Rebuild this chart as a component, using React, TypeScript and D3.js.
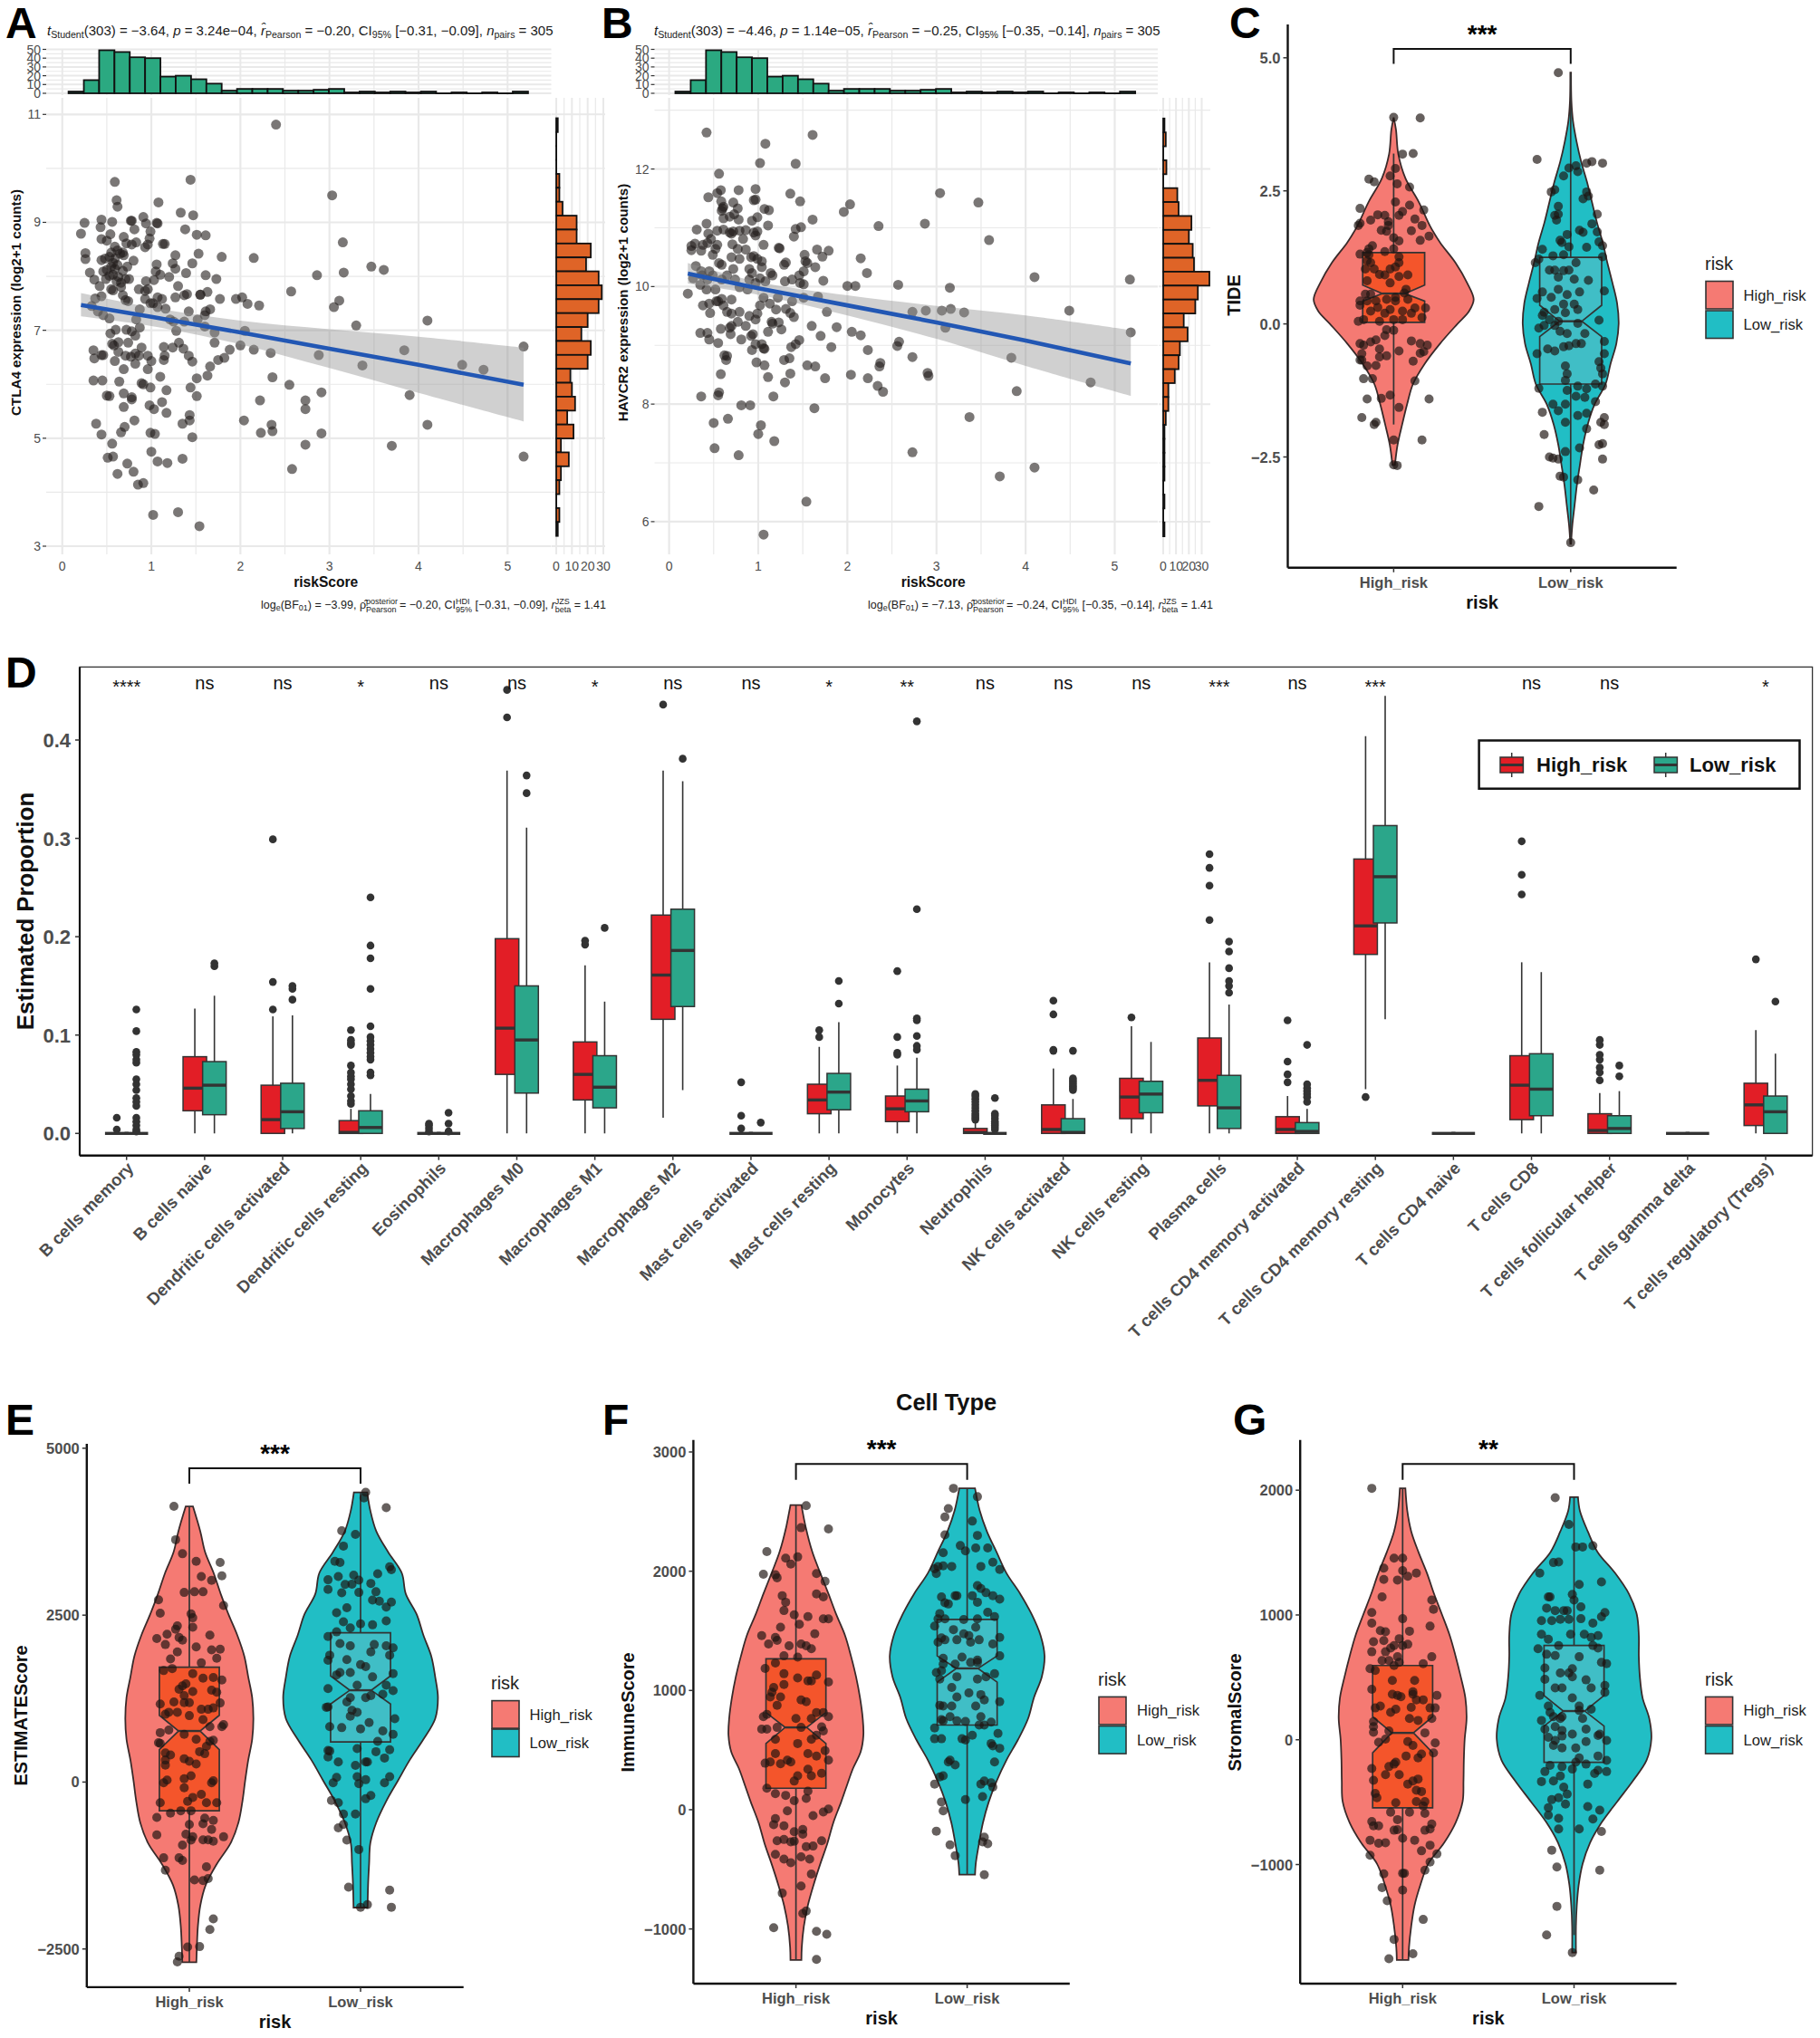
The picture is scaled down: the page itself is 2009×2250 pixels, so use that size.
import React from 'react';
import * as d3 from 'd3';

type Pair = [number, number];

// shared histogram of riskScore (panels A and B)
const riskBinCounts = [2, 15, 49, 47, 41, 40, 19, 20, 16, 11, 3, 5, 5, 5, 3, 3, 4, 5, 1, 2, 1, 2, 1, 2, 0, 1, 0, 1, 0, 2];
const ctla4BinCounts = [1, 0, 0, 0, 2, 2, 4, 13, 13, 22, 19, 27, 29, 27, 20, 16, 22, 20, 9, 10, 12, 7, 11, 3, 8, 3, 2, 0, 2, 1];
const havcr2BinCounts = [1, 2, 0, 2.5, 0, 11, 12, 22, 20, 23, 24, 36, 27, 25, 16, 19, 13, 12, 9, 4, 4, 2, 1, 1, 1, 1, 0, 1, 0, 1];

const smoothX = [0.21, 1, 2, 3, 4, 5.18];
const ctla4Fit = [7.47, 7.25, 6.96, 6.66, 6.36, 5.99];
const ctla4Hi = [7.69, 7.42, 7.18, 7.02, 6.88, 6.68];
const ctla4Lo = [7.26, 7.08, 6.74, 6.3, 5.84, 5.31];
const havcr2Fit = [10.22, 9.97, 9.68, 9.39, 9.08, 8.69];
const havcr2Hi = [10.4, 10.08, 9.85, 9.67, 9.51, 9.26];
const havcr2Lo = [10.05, 9.86, 9.51, 9.11, 8.65, 8.14];

const ctla4Points: Pair[] = [
  [2.4,10.81],[.59,9.75],[1.44,9.79],[3.03,9.5],[.61,9.41],[.62,9.29],[1.08,9.37],[1.33,9.18],[1.47,9.13],[.25,8.99],[.21,8.79],[.44,9.05],[.56,9.01],[.43,8.91],[.77,9.03],[.78,9.03],[.91,9.1],[.94,8.98],[1.06,8.99],[1.07,8.98],[1.38,8.87],[1.51,8.77],[1.61,8.76],[.54,8.78],[.69,8.73],[.81,8.87],[.99,8.83],[.98,8.7],[.44,8.69],[.5,8.66],[.83,8.63],[.72,8.61],[.78,8.59],[1.13,8.6],[1.15,8.6],[3.15,8.63],[.93,8.54],[.96,8.59],[.26,8.43],[.26,8.32],[1.27,8.39],[1.53,8.42],[1.79,8.36],[2.15,8.34],[1.46,8.24],[1.24,8.24],[1.27,8.14],[1.06,8.22],[.8,8.29],[.44,8.3],[.31,8.07],[.36,7.94],[1.39,8.06],[1.61,8.02],[1.73,7.95],[1.2,7.99],[1.1,8.03],[1.05,8.09],[1.03,7.93],[.94,7.91],[2.86,8.02],[3.16,8.07],[3.47,8.18],[3.61,8.12],
  [.59,8.55],[.62,8.48],[.55,8.44],[.65,8.42],[.68,8.44],[.69,8.39],[.59,8.33],[.53,8.36],[.48,8.33],[.57,8.25],[.62,8.21],[.55,8.18],[.59,8.14],[.5,8.12],[.46,8.09],[.57,8.03],[.63,7.99],[.53,8.01],[.49,7.95],[.42,7.82],[.61,7.91],[.71,7.95],[.75,7.95],[.66,7.88],[.73,8.18],[.68,8.1],[.57,7.74],[.55,7.76],[.66,7.8],[.68,7.65],[.71,7.56],[.74,7.54],[.44,7.63],[.37,7.59],[.33,7.45],[.4,7.35],[.46,7.28],[.53,7.22],[.54,6.94],[.6,7.01],[.72,7.01],[.78,6.98],[.82,6.9],[.87,7.05],[.83,7.2],[.87,7.39],[.93,7.58],[.93,7.73],[.86,7.76],[.96,7.76],[.99,7.5],[1.02,7.5],[1.07,7.61],[1.12,7.58],[1.07,7.43],[1.16,7.4],[1.21,7.2],[1.25,7.16],[1.28,6.99],[1.37,7.16],[1.42,7.35],[1.27,7.61],[1.3,7.82],[1.37,7.65],[1.4,7.67],[1.55,7.66],[1.55,7.66],[1.63,7.71],[1.77,7.58],[1.66,7.39],[1.61,7.35],[1.6,7.28],[1.52,7.2],[1.6,7.07],[1.71,6.96],[1.71,6.77],[1.88,6.64],[1.82,6.49],[1.75,6.45],[1.66,6.33],[1.63,6.16],[1.51,6.11],[1.46,6.42],[1.42,6.53],[1.36,6.66],[1.31,6.77],[1.24,6.68],[1.14,6.69],[1.15,6.53],[1.14,6.45],[.96,6.53],[1,6.43],[.82,6.57],[.86,6.53],[.77,6.51],[.71,6.53],[.63,6.6],[.58,6.72],[.56,6.75],[.63,6.78],[.74,6.77],[.89,6.68],[.44,6.54],[.46,6.54],[.59,6.43],[.35,6.63],[.36,6.48],[.69,6.28],[.82,6.38],[.96,6.28],[1.1,6.14],[.35,6.07],[.45,6.07],[.64,6.05],[.89,6.02],[.91,6],[.99,5.94],[1.17,5.89],[1.44,5.94],[1.51,5.78],[.5,5.79],[.53,5.78],[.69,5.83],[.78,5.76],[.78,5.72],[.69,5.58],[.98,5.61],[1.03,5.54],[1.12,5.67],[1.17,5.47],[1.43,5.43],[1.43,5.33],[1.35,5.27],[.81,5.33],[.38,5.27],[.44,5.07],[.7,5.21],[.66,5.11],[.99,5.1],[1.04,5.08],[1.46,5.02],[.56,4.9],[1,4.75],[1.07,4.57],[1.18,4.54],[1.35,4.62],[.51,4.64],[.57,4.66],[.73,4.53],[.62,4.34],[.8,4.38],[.85,4.14],[.91,4.17],[1.02,3.58],[1.3,3.63],[1.54,3.37],
  [1.95,7.58],[2.02,7.61],[2.08,7.49],[2.21,7.46],[2.05,6.99],[2,6.72],[2.15,6.64],[2.34,6.58],[2.36,6.13],[2.55,5.99],[2.22,5.7],[2.04,5.33],[2.35,5.25],[2.36,5.13],[2.23,5.1],[2.73,5.7],[2.73,5.54],[2.73,4.88],[2.58,4.43],[2.91,5.85],[2.91,5.09],[2.88,6.54],[2.57,7.72],[3.11,7.55],[3.05,7.43],[3.3,7.09],[3.84,6.63],[3.37,6.35],[4.1,7.18],[4.49,6.36],[4.73,6.27],[5.18,6.7],[3.9,5.8],[4.1,5.25],[3.7,4.86],[5.18,4.66],
];

const havcr2Points: Pair[] = [
  [.42,12.62],[1.61,12.58],[1.08,12.43],[1.02,12.1],[1.42,12.09],[.56,11.92],[1.36,11.58],[3.04,11.59],[.78,11.64],[.97,11.66],[.58,11.64],[.54,11.59],[.44,11.52],[.72,11.43],[.95,11.47],[.97,11.48],[1.47,11.45],[2.03,11.4],[1.96,11.27],[3.47,11.43],[.585,11.45],[.61,11.36],[.6,11.33],[.59,11.29],[.77,11.33],[.73,11.23],[1.07,11.32],[1.12,11.3],[.99,11.18],[.93,11.12],[1.61,11.14],[.61,11.16],[.68,11.19],[.78,11.14],[1.11,11.04],[.42,11.07],[2.35,11.03],[2.87,11.07],[.31,10.97],[.44,10.9],[.54,10.95],[.61,10.97],
  [.68,10.92],[.7,10.9],[.72,10.94],[.79,10.95],[.86,10.96],[.83,10.81],[.95,10.92],[.99,10.94],[.97,10.87],[1.42,10.98],[1.48,11.01],[1.4,10.85],[3.59,10.79],[.29,10.73],[.25,10.69],[.25,10.62],[.36,10.61],[.38,10.71],[.43,10.74],[.47,10.81],[.54,10.71],[.52,10.64],[.71,10.72],[1.06,10.71],[1.23,10.66],[1.24,10.65],[1.52,10.54],[1.66,10.63],[1.79,10.61],[1.72,10.51],[1.64,10.33],[1.53,10.43],[1.55,10.4],[2.15,10.48],[2.22,10.23],[.3,10.35],[.49,10.54],[.56,10.4],[.59,10.37],[.7,10.5],[.79,10.47],[.77,10.64],[.86,10.63],[.92,10.5],[.95,10.52],[.99,10.47],[1.04,10.43],[1.04,10.33],[.9,10.3],[.93,10.23],[.72,10.3],[.65,10.19],[.45,10.26],[.36,10.26],[.37,10.19],[.27,10.14],[.43,10.12],[.49,10.19],[.59,10.12],[.74,10.12],[.9,10.12],[1.02,10.14],[1.16,10.19],[1.14,10.23],[1.29,10.37],[1.31,10.41],[1.3,10.09],[1.38,10.12],[1.46,10.19],[1.51,10.26],[1.47,10.06],[1.51,10.04],[1.73,10.1],[2,10.01],[2.09,10.01],[2.57,10.03],[4.1,10.16],[5.17,10.12],
  [.21,9.88],[.35,10.03],[.42,9.95],[.52,9.95],[.55,9.75],[.53,9.75],[.38,9.68],[.45,9.71],[.59,9.79],[.7,9.78],[.79,9.99],[.88,9.95],[.97,10.06],[1.08,10.09],[1.06,9.81],[1.22,9.81],[1.38,9.75],[1.51,9.81],[1.67,9.83],[3.15,9.98],[1.77,9.57],[1.4,9.48],[1.36,9.55],[1.31,9.62],[1.2,9.61],[1.13,9.71],[1.02,9.68],[.99,9.54],[.97,9.44],[.9,9.5],[.79,9.57],[.7,9.54],[.65,9.57],[.61,9.68],[.46,9.55],[.77,9.4],[.86,9.33],[.68,9.3],[.7,9.33],[.69,9.19],[.58,9.28],[.35,9.21],[.43,9.21],[.45,9.1],[.55,9.04],[.81,9.1],[.92,9.16],[.94,9.19],[.97,9.02],[.93,8.92],[1.04,9.02],[1.06,8.95],[1.07,8.94],[1.15,9.4],[1.11,9.23],[1.16,9.37],[1.23,9.39],[1.26,9.27],[1.46,9.09],[1.42,9.02],[1.37,8.97],[1.6,9.33],[1.7,9.16],[1.88,9.31],[2.05,9.23],[2.15,9.17],[1.82,8.97],[2.23,8.92],[2.56,8.99],[2.58,9.06],[2.73,9.57],[2.88,9.59],[3.06,9.59],[3.16,9.62],[3.31,9.56],[3.1,9.3],[4.49,9.59],[5.18,9.22],[2.73,8.8],[3.84,8.79],[.62,8.83],[.65,8.82],[.64,8.75],[.98,8.71],[1.07,8.66],[1.35,8.78],[1.29,8.75],[1.55,8.66],[1.64,8.64],[.58,8.51],[1.11,8.46],[1.36,8.52],[1.3,8.37],[1.75,8.44],[2.04,8.5],[2.23,8.44],[2.37,8.7],[2.36,8.64],[2.9,8.53],[2.91,8.48],[2.34,8.31],[2.4,8.21],[4.73,8.37],[3.9,8.22],[.36,8.13],[.55,8.15],[.56,8.2],[1.17,8.13],[.81,7.98],[.91,7.98],[1.63,7.93],[3.37,7.78],[.5,7.68],[.66,7.75],[1.03,7.64],[1,7.49],[1.18,7.37],[.51,7.25],[.78,7.13],[2.73,7.18],[3.71,6.77],[4.1,6.92],[1.54,6.34],[1.06,5.78],
];

// panel D: whisker low, q1, median, q3, whisker high
const cellTypes = ['B cells memory', 'B cells naive', 'Dendritic cells activated', 'Dendritic cells resting', 'Eosinophils', 'Macrophages M0', 'Macrophages M1', 'Macrophages M2', 'Mast cells activated', 'Mast cells resting', 'Monocytes', 'Neutrophils', 'NK cells activated', 'NK cells resting', 'Plasma cells', 'T cells CD4 memory activated', 'T cells CD4 memory resting', 'T cells CD4 naive', 'T cells CD8', 'T cells follicular helper', 'T cells gamma delta', 'T cells regulatory (Tregs)'];
const cellSignif = ['****', 'ns', 'ns', '*', 'ns', 'ns', '*', 'ns', 'ns', '*', '**', 'ns', 'ns', 'ns', '***', 'ns', '***', '', 'ns', 'ns', '', '*'];
const boxHigh = [
  [0,0,0,0,0],[0,.023,.046,.078,.127],[0,0,.014,.049,.119],[0,0,.001,.013,.025],[0,0,0,0,0],[0,.06,.107,.198,.369],[0,.034,.06,.093,.171],[.016,.116,.161,.222,.369],[0,0,0,0,0],[0,.02,.034,.05,.088],[0,.012,.025,.038,.069],[0,0,.001,.005,.012],[0,0,.004,.029,.066],[0,.015,.037,.056,.109],[0,.028,.054,.097,.174],[0,0,.004,.017,.038],[.045,.182,.211,.279,.404],[0,0,0,0,0],[0,.014,.049,.079,.174],[0,0,.003,.02,.041],[0,0,0,0,0],[0,.008,.029,.051,.105],
];
const boxLow = [
  [0,0,0,0,0],[0,.019,.049,.073,.14],[0,.005,.022,.051,.12],[0,0,.006,.023,.04],[0,0,0,0,0],[0,.041,.095,.15,.311],[0,.026,.047,.079,.134],[.044,.129,.186,.228,.358],[0,0,0,0,0],[0,.024,.042,.061,.113],[0,.022,.033,.045,.077],[0,0,0,0,0],[0,0,.001,.015,.035],[0,.021,.04,.053,.093],[0,.005,.026,.059,.131],[0,0,.002,.011,.025],[.116,.214,.261,.313,.445],[0,0,0,0,0],[0,.018,.045,.081,.164],[0,0,.005,.018,.043],[0,0,0,0,0],[0,0,.022,.038,.081],
];
const outlierHigh = [
  [.004,.016],[],[.126,.154,.299],[.03,.033,.038,.045,.05,.055,.058,.062,.069,.09,.092,.095,.105],[.002,.005,.008,.01],[.423,.451],[.192,.196],[.436],[.005,.018,.052],[.098,.105],[.08,.082,.098,.165],[.014,.016,.018,.02,.023,.026,.029,.032,.035,.038,.04],[.084,.085,.121,.135],[.118],[.217,.252,.27,.284],[.052,.06,.073,.115],[.037],[],[.243,.263,.297],[.054,.062,.067,.075,.08,.09,.095],[],[.177],
];
const outlierLow = [
  [.002,.004,.008,.012,.016,.028,.032,.036,.044,.05,.055,.072,.075,.08,.083,.104,.126],[.17,.173],[.136,.147,.15],[.059,.062,.075,.078,.082,.086,.09,.094,.098,.109,.147,.178,.191,.24],[.002,.01,.021],[.346,.364],[.209],[.381],[.011],[.132,.155],[.085,.089,.099,.115,.117,.228,.419],[.004,.006,.008,.01,.012,.015,.018,.02,.036],[.044,.046,.048,.05,.052,.054,.056,.084],[],[.143,.15,.155,.168,.185,.195],[.032,.037,.04,.043,.046,.05,.09],[],[],[],[.058,.069],[],[.134],
];

// violin outlines: score, half width (in units of category spacing)
const tideHighShape: Pair[] = [[3.88,0],[3.65,.013],[3.19,.026],[2.74,.066],[2.29,.142],[1.83,.207],[1.53,.262],[1.15,.349],[.77,.415],[.46,.452],[.24,.426],[0,.36],[-.37,.262],[-.75,.175],[-1.13,.109],[-1.51,.076],[-1.89,.048],[-2.27,.022],[-2.65,.007]];
const tideLowShape: Pair[] = [[4.72,.002],[4.19,.004],[3.81,.013],[3.43,.033],[3.05,.059],[2.67,.092],[2.29,.12],[1.91,.148],[1.53,.181],[1.15,.207],[.77,.236],[.39,.262],[0,.271],[-.37,.258],[-.75,.225],[-1.13,.197],[-1.51,.135],[-1.89,.096],[-2.27,.07],[-2.65,.052],[-3.03,.035],[-3.41,.022],[-3.79,.009],[-4.13,.002]];
const estimateHighShape: Pair[] = [[4130,.021],[3755,.064],[3445,.092],[3130,.142],[2820,.183],[2510,.229],[2200,.28],[1885,.321],[1575,.344],[1265,.367],[950,.374],[640,.367],[330,.344],[20,.326],[-290,.31],[-605,.287],[-915,.241],[-1225,.161],[-1540,.096],[-1850,.064],[-2160,.05],[-2470,.044],[-2700,.041]];
const estimateLowShape: Pair[] = [[4340,.039],[4065,.057],[3755,.092],[3445,.161],[3130,.241],[2820,.264],[2510,.328],[2200,.367],[1885,.413],[1575,.436],[1265,.452],[950,.436],[640,.367],[330,.287],[20,.218],[-290,.149],[-605,.092],[-915,.057],[-1225,.05],[-1540,.044],[-1880,.041]];
const immuneHighShape: Pair[] = [[2555,.032],[2370,.057],[2160,.096],[1985,.142],[1810,.19],[1635,.236],[1460,.287],[1290,.321],[1115,.351],[940,.374],[765,.39],[625,.394],[485,.378],[345,.333],[205,.298],[65,.264],[-110,.218],[-285,.183],[-455,.142],[-630,.103],[-805,.069],[-980,.046],[-1155,.034],[-1260,.032]];
const immuneLowShape: Pair[] = [[2695,.046],[2510,.073],[2335,.115],[2160,.172],[1985,.229],[1810,.31],[1635,.378],[1460,.429],[1290,.452],[1115,.436],[940,.39],[765,.356],[590,.298],[415,.229],[240,.172],[65,.126],[-110,.092],[-285,.069],[-455,.05],[-545,.046]];
const stromalHighShape: Pair[] = [[2015,.016],[1835,.027],[1670,.05],[1505,.092],[1335,.142],[1170,.183],[1005,.229],[835,.275],[670,.309],[505,.339],[335,.366],[170,.373],[5,.362],[-165,.357],[-330,.355],[-495,.35],[-665,.309],[-830,.24],[-995,.149],[-1165,.103],[-1330,.069],[-1495,.05],[-1665,.037],[-1765,.034]];
const stromalLowShape: Pair[] = [[1945,.023],[1835,.034],[1670,.08],[1505,.137],[1335,.24],[1170,.32],[1005,.366],[835,.378],[670,.378],[505,.384],[335,.4],[170,.439],[5,.451],[-165,.423],[-330,.343],[-495,.252],[-665,.16],[-830,.092],[-995,.05],[-1165,.027],[-1330,.016],[-1495,.011],[-1705,.011]];

// notched box: whisker low, q1, notch low, median, notch high, q3, whisker high
const tideHighBox = [-1.89, .03, .43, .57, .73, 1.34, 3.2];
const tideLowBox = [-4.1, -1.13, -.24, .05, .35, 1.25, 4.72];
const estimateHighBox = [-2700, -430, 485, 765, 1000, 1720, 4130];
const estimateLowBox = [-1880, 600, 1170, 1375, 1590, 2235, 4340];
const immuneHighBox = [-1260, 180, 555, 690, 815, 1265, 2555];
const immuneLowBox = [-545, 710, 1070, 1185, 1290, 1595, 2695];
const stromalHighBox = [-1765, -545, -105, 55, 185, 595, 2015];
const stromalLowBox = [-1565, -180, 110, 230, 355, 755, 1945];

// jittered samples: offset from the category, score
const tideHighPoints: Pair[] = [[0,3.88],[.15,3.87],[.05,3.19],[.11,3.2],[-.14,2.72],[-.11,2.67],[-.02,2.78],[.01,2.92],[.02,2.63],[.09,2.57],[-.19,2.17],[.01,2.29],[.09,2.23],[.17,2.14],[.05,2.11],[.03,2.04],[-.09,2.05],[-.05,2.04],[-.13,1.95],[-.19,1.89],[-.2,1.85],[-.03,1.92],[-.03,1.85],[.12,1.97],[.16,1.85],[.1,1.75],[-.07,1.76],[-.04,1.74],[0,1.62],[.03,1.56],[.15,1.57],[.2,1.65],[-.12,1.47],[-.14,1.41],[-.19,1.31],[-.15,1.34],[-.14,1.3],[-.05,1.36],[0,1.41],[.03,1.26],[-.15,1.19],[-.13,1.15],[-.11,1.03],[-.16,1.03],[-.02,1.03],[.01,1.07],[.03,1.15],[-.05,.92],[-.08,.93],[.03,.89],[.08,.92],[-.15,.81],[-.02,.77],[.07,.65],[-.16,.56],[-.13,.56],[.06,.58],[.01,.5],[-.19,.43],[-.15,.43],[-.1,.43],[-.04,.46],[.01,.43],[.08,.46],[-.19,.35],[-.09,.31],[-.02,.27],[.05,.24],[.12,.3],[.18,.3],[-.13,.24],[-.05,.2],[.1,.2],[-.17,.08],[-.2,.05],[-.08,.05],[0,.08],[.05,.08],[.16,.12],[-.04,-.11],[0,-.12],[-.05,-.22],[-.19,-.37],[-.17,-.4],[-.13,-.34],[-.1,-.3],[.1,-.32],[.15,-.37],[.19,-.4],[-.08,-.47],[.17,-.52],[.15,-.55],[-.18,-.56],[-.18,-.68],[-.19,-.68],[-.08,-.62],[-.04,-.6],[.03,-.51],[.11,-.7],[-.15,-.79],[-.1,-.78],[-.17,-1.03],[-.12,-1.03],[.12,-1.07],[-.15,-1.41],[-.07,-1.4],[-.02,-1.34],[.2,-1.41],[.03,-1.57],[-.18,-1.76],[-.11,-1.89],[-.1,-1.85],[.16,-2.18],[0,-2.18],[0,-2.65],[.02,-2.66]];
const tideLowPoints: Pair[] = [[-.07,4.72],[-.19,3.09],[.09,3.02],[.12,3.05],[.18,3.02],[-.01,2.93],[.03,2.97],[.04,2.86],[-.04,2.78],[-.11,2.48],[-.09,2.52],[.09,2.48],[.1,2.4],[.07,2.35],[-.07,2.21],[-.07,2.06],[-.09,2.04],[-.08,1.95],[.15,2.06],[.12,1.88],[-.02,1.68],[.05,1.76],[.07,1.72],[.15,1.73],[-.06,1.57],[-.05,1.53],[-.01,1.45],[.16,1.54],[-.16,1.4],[.09,1.44],[.18,1.47],[-.2,1.15],[-.18,1.22],[-.1,1.28],[-.04,1.3],[.03,1.15],[.18,1.26],[-.12,1.01],[-.09,1.01],[-.07,.88],[-.04,1],[-.01,1.01],[.02,.84],[.1,.82],[-.07,.65],[-.16,.6],[-.02,.55],[.05,.6],[.19,.62],[-.19,.48],[-.11,.5],[-.04,.37],[.02,.37],[-.15,.22],[-.09,.27],[-.03,.21],[.04,.27],[-.16,.16],[-.12,.08],[-.07,.05],[.16,.07],[-.18,-.08],[-.15,-.03],[-.09,-.03],[-.06,-.14],[-.02,-.18],[.04,.01],[.08,-.18],[.19,-.33],[-.13,-.47],[-.09,-.51],[-.04,-.43],[-.01,-.41],[.03,-.37],[.06,-.37],[-.19,-.56],[.19,-.56],[.16,-.71],[-.03,-.79],[.17,-.83],[-.02,-.94],[.18,-.94],[-.03,-1.06],[.14,-1.13],[-.18,-1.21],[-.02,-1.25],[.04,-1.17],[.09,-1.22],[.18,-1.17],[.03,-1.36],[.08,-1.38],[.14,-1.46],[-.1,-1.51],[-.03,-1.51],[-.07,-1.63],[-.16,-1.66],[.04,-1.72],[.09,-1.68],[.19,-1.76],[.17,-1.85],[.19,-1.89],[-.03,-1.85],[.09,-1.97],[-.15,-2.08],[.05,-2.33],[-.03,-2.4],[.16,-2.27],[.18,-2.25],[.18,-2.54],[-.12,-2.5],[-.1,-2.52],[-.07,-2.54],[-.06,-2.86],[-.04,-2.88],[.04,-2.93],[.13,-3.12],[-.18,-3.43],[0,-4.11]];
const estimateHighPoints: Pair[] = [[-.09,4130],[-.08,3630],[-.04,3420],[.04,3305],[.18,3290],[.19,3090],[.07,3080],[.13,3020],[-.18,2730],[-.03,2840],[.03,2850],[.08,2850],[.2,2645],[-.17,2530],[.01,2520],[.02,2460],[.02,2320],[-.07,2340],[-.08,2290],[-.13,2215],[-.06,2165],[-.19,2150],[-.04,2125],[.12,2200],[-.14,2060],[.04,2025],[.13,1980],[.18,1990],[-.07,1950],[-.11,1845],[.16,1855],[.07,1785],[-.15,1670],[-.1,1700],[.02,1625],[.08,1555],[.14,1565],[.19,1530],[-.02,1470],[-.04,1440],[-.06,1390],[.02,1355],[.13,1375],[.16,1345],[-.03,1295],[-.09,1200],[-.03,1190],[-.17,1170],[0,1190],[.18,1185],[.11,1090],[.07,1090],[.14,1110],[-.14,1015],[-.12,1045],[-.07,1045],[0,995],[.08,935],[.19,830],[.2,860],[.12,830],[-.17,740],[-.12,780],[-.03,715],[.04,640],[-.17,580],[-.18,590],[.12,610],[.14,625],[.1,535],[-.14,435],[-.11,405],[.06,455],[.09,425],[-.14,330],[-.03,350],[0,310],[.04,270],[-.14,255],[.01,95],[-.03,50],[-.13,30],[.13,-10],[.14,20],[-.15,-10],[-.03,-85],[.07,-185],[.02,-230],[-.01,-290],[-.17,-310],[.1,-310],[.16,-310],[-.11,-465],[-.05,-430],[.01,-430],[-.19,-530],[.09,-540],[.14,-575],[.08,-625],[0,-635],[.13,-710],[-.19,-790],[-.02,-780],[.02,-820],[.2,-820],[.01,-870],[.08,-865],[.11,-865],[.14,-885],[-.04,-945],[-.15,-1135],[-.06,-1135],[-.04,-1175],[-.14,-1320],[.1,-1270],[.03,-1465],[.08,-1475],[.11,-1445],[.14,-2050],[.12,-2210],[-.01,-2470],[.06,-2465],[-.06,-2610],[-.07,-2695]];
const estimateLowPoints: Pair[] = [[.03,4340],[.15,4110],[.02,4255],[-.11,3765],[-.03,3710],[-.1,3535],[-.15,3305],[-.12,3290],[.17,3225],[.18,3180],[.1,3120],[-.19,3030],[-.13,3080],[-.09,2960],[-.05,2965],[-.04,3100],[-.01,3025],[.06,2975],[-.19,2885],[-.11,2835],[-.01,2840],[.09,2850],[.07,2725],[.11,2710],[.18,2695],[.15,2620],[-.14,2535],[-.08,2610],[.15,2415],[0,2370],[-.1,2400],[.07,2355],[-.14,2250],[-.19,2180],[-.06,2310],[-.18,1900],[-.12,2075],[-.06,2040],[.08,2060],[.06,1950],[.19,2010],[.15,2040],[-.19,1825],[-.08,1835],[.17,1900],[0,1760],[.03,1730],[.19,1625],[-.12,1640],[-.14,1605],[-.06,1640],[.07,1575],[.15,1450],[-.19,1400],[-.02,1450],[.19,1370],[.13,1315],[-.06,1265],[.03,1265],[.06,1295],[-.2,1120],[-.08,1200],[-.05,1075],[-.19,1125],[-.02,1045],[-.06,985],[.2,950],[.13,765],[-.18,830],[-.11,815],[0,795],[.05,890],[.19,715],[.1,610],[.17,485],[-.19,475],[-.18,465],[-.02,500],[.09,455],[-.19,375],[.14,360],[-.13,300],[.03,300],[-.03,250],[.04,300],[-.14,70],[-.02,80],[.17,80],[.03,35],[-.16,-10],[-.01,-25],[.14,-10],[.06,-200],[.03,-250],[-.17,-275],[-.13,-310],[-.1,-480],[-.03,-480],[-.1,-635],[-.13,-685],[-.08,-870],[-.01,-1010],[-.07,-1575],[.17,-1620],[.18,-1875],[.04,-1835],[0,-1875]];
const immuneHighPoints: Pair[] = [[.06,2550],[.19,2355],[.03,2365],[-.17,2165],[-.06,2110],[.01,2120],[-.03,2060],[-.19,1975],[-.12,1970],[-.11,1945],[.12,1980],[.17,1915],[.12,1810],[.16,1785],[-.08,1795],[-.06,1740],[-.07,1670],[-.01,1635],[.07,1620],[.02,1555],[.16,1600],[.19,1600],[-.09,1530],[-.12,1445],[-.2,1460],[.11,1475],[-.16,1390],[-.11,1420],[.03,1390],[.06,1375],[.09,1350],[-.04,1375],[-.07,1290],[.01,1280],[-.12,1230],[-.18,1185],[.19,1070],[-.07,1140],[.01,1105],[.07,1080],[.09,1080],[.12,1130],[-.13,1025],[-.14,985],[-.07,1050],[-.15,945],[-.09,945],[.03,920],[.06,905],[-.11,875],[-.17,800],[-.19,780],[.12,815],[.19,780],[.16,815],[.09,765],[0,765],[.03,690],[-.2,675],[-.17,675],[-.11,690],[.15,695],[.12,625],[.09,590],[-.12,590],[.16,660],[.01,555],[.17,495],[-.12,470],[.07,470],[.12,450],[-.18,390],[-.15,400],[-.09,385],[-.05,415],[.19,415],[-.03,400],[.07,340],[.01,285],[.09,285],[-.01,240],[.15,305],[-.17,180],[-.12,135],[.07,155],[-.06,120],[-.01,75],[.06,95],[.1,-50],[.16,-20],[.19,5],[-.05,-10],[-.12,-75],[-.13,-125],[-.07,-135],[-.01,-185],[.04,-165],[.04,-205],[-.11,-260],[-.07,-250],[-.03,-270],[-.01,-265],[.06,-310],[.1,-305],[.15,-260],[-.12,-375],[-.07,-415],[-.03,-445],[.03,-395],[.08,-415],[.09,-540],[.03,-640],[-.08,-700],[.06,-850],[.04,-870],[-.13,-990],[.12,-1020],[.18,-1045],[.12,-1255]];
const immuneLowPoints: Pair[] = [[-.08,2695],[.06,2625],[-.11,2525],[-.13,2455],[.03,2420],[-.13,2305],[.06,2300],[-.04,2215],[-.01,2170],[.05,2195],[.12,2195],[-.14,2155],[-.17,2040],[-.19,2020],[-.14,2045],[-.09,2040],[.08,2040],[.15,2075],[.19,2015],[-.18,1980],[.06,1880],[.08,1855],[.11,1820],[.15,1795],[.19,1765],[-.15,1785],[-.13,1735],[-.07,1795],[-.06,1795],[.03,1795],[.06,1740],[-.11,1725],[-.16,1645],[-.17,1600],[-.19,1540],[-.13,1600],[-.02,1595],[.06,1600],[.12,1655],[.16,1620],[-.08,1510],[.05,1530],[-.02,1475],[.01,1460],[-.15,1440],[-.17,1405],[-.13,1425],[-.06,1425],[.19,1445],[.02,1405],[.07,1425],[.15,1390],[.19,1290],[-.14,1270],[-.03,1280],[.06,1255],[-.07,1220],[.02,1235],[-.14,1220],[.06,1235],[-.18,1150],[-.15,1165],[-.06,1115],[.16,1140],[-.09,1025],[.06,1095],[.11,1115],[-.16,1095],[.01,980],[-.06,945],[.08,965],[.1,920],[.19,905],[-.16,875],[-.14,870],[.05,870],[-.09,870],[-.1,780],[-.15,755],[-.14,745],[-.06,745],[-.01,740],[.08,780],[.14,735],[.07,710],[-.19,685],[.1,710],[-.19,595],[-.15,595],[-.03,595],[-.01,585],[.03,625],[.18,640],[.14,555],[.15,535],[.19,515],[.16,400],[-.11,400],[-.07,375],[-.1,415],[-.19,215],[-.16,275],[-.14,285],[.08,215],[.1,240],[.14,225],[.15,190],[.09,110],[-.15,65],[-.01,85],[-.14,-10],[-.18,-180],[.1,-230],[.09,-270],[.12,-285],[-.1,-295],[-.07,-385],[.1,-545]];
const stromalHighPoints: Pair[] = [[-.18,2015],[-.05,1455],[0,1455],[-.11,1375],[0,1355],[.03,1310],[.08,1335],[-.11,1285],[-.03,1280],[-.12,1145],[.17,1120],[-.18,1020],[0,970],[.18,1045],[-.18,935],[.16,910],[-.13,875],[-.1,865],[.04,870],[-.17,785],[-.11,795],[-.02,810],[.03,765],[0,755],[-.05,755],[-.07,735],[-.1,705],[-.18,705],[-.03,665],[-.12,635],[-.08,635],[-.02,620],[.17,665],[.12,610],[-.19,570],[-.16,555],[-.05,595],[-.06,475],[.07,475],[.2,355],[-.18,405],[-.06,365],[-.03,355],[.06,385],[.06,365],[-.01,345],[-.16,255],[-.13,270],[-.04,245],[.05,260],[.08,320],[.12,320],[.16,255],[.19,255],[-.07,220],[-.17,145],[-.17,105],[-.17,60],[-.08,70],[.04,170],[.09,155],[.13,55],[.17,170],[-.14,-20],[-.1,5],[.03,-15],[.06,-45],[.19,-25],[.18,-105],[.02,-130],[.11,-115],[.09,-145],[-.18,-230],[-.08,-215],[-.04,-180],[-.05,-195],[-.17,-325],[-.1,-280],[-.02,-280],[.03,-355],[.09,-315],[.06,-330],[-.16,-430],[-.15,-465],[.08,-405],[.11,-415],[-.04,-505],[.08,-495],[.13,-495],[.12,-530],[.04,-580],[-.07,-580],[.13,-590],[-.18,-655],[-.03,-640],[-.17,-690],[-.14,-690],[.17,-675],[.13,-725],[.16,-715],[-.05,-725],[-.03,-720],[-.19,-805],[0,-790],[-.14,-830],[-.1,-825],[.07,-805],[-.19,-925],[.11,-890],[.16,-845],[.2,-915],[.16,-980],[.13,-1045],[-.11,-1075],[0,-1070],[.01,-1070],[-.12,-1185],[0,-1205],[-.09,-1290],[.12,-1440],[-.05,-1600],[.06,-1715],[-.08,-1755]];
const stromalLowPoints: Pair[] = [[-.11,1940],[-.03,1725],[.01,1545],[.05,1545],[.11,1555],[-.12,1420],[-.09,1425],[-.2,1335],[.16,1265],[.03,1245],[-.15,1145],[-.14,1145],[-.01,1165],[0,1120],[.04,1065],[-.16,1055],[-.11,1035],[-.06,1035],[-.04,1035],[.18,1020],[-.19,955],[-.13,955],[-.08,965],[-.03,965],[.04,970],[.11,935],[.16,985],[-.19,845],[-.15,805],[-.02,845],[.06,845],[.1,820],[.14,835],[-.21,730],[-.16,685],[-.09,755],[.11,755],[.14,735],[-.17,575],[-.11,675],[-.01,570],[.03,665],[.16,620],[.19,610],[-.08,535],[-.03,535],[-.01,505],[-.17,485],[.07,480],[-.11,415],[-.07,415],[.1,415],[.18,435],[.18,380],[-.2,355],[-.01,335],[-.15,270],[-.14,220],[-.12,185],[.03,270],[.1,245],[-.19,155],[-.07,185],[-.08,170],[.03,235],[-.17,85],[-.11,105],[.05,170],[-.15,20],[-.07,75],[-.01,45],[.14,35],[.19,-5],[-.11,-5],[-.07,30],[.01,-65],[.07,85],[.15,45],[-.12,-45],[-.07,-65],[.07,-15],[.14,-130],[.19,-165],[.03,-145],[.01,-180],[-.07,-215],[-.14,-205],[.07,-195],[.14,-245],[.19,-255],[-.17,-255],[-.01,-235],[-.08,-290],[-.19,-335],[-.12,-330],[.12,-270],[.08,-355],[-.06,-380],[-.04,-435],[-.13,-480],[-.09,-465],[-.15,-545],[-.05,-515],[.08,-535],[.15,-565],[-.15,-605],[-.09,-630],[.11,-635],[-.09,-715],[.03,-715],[.16,-735],[-.13,-885],[-.1,-1020],[.15,-1045],[-.1,-1335],[-.16,-1565],[-.01,-1705]];

const FONT = '"Liberation Sans", Arial, sans-serif';
const HIGH = '#F57A73';
const LOW = '#21BEC5';
const HIGH_BOX = '#F4552B';
const LOW_BOX = '#40BEC6';
const RED = '#E21E26';
const TEAL = '#2BA68A';
const GREY = '#4d4d4d';
const GRID = '#e9e9e9';

function Letter({ x, y, t }: { x: number; y: number; t: string }) {
  return <text x={x} y={y} fontSize={48} fontWeight="bold" fill="#000">{t}</text>;
}

function Stacked({ sup, sub, back }: { sup: string; sub: string; back: number }) {
  return (
    <>
      <tspan fontSize={9} dy={-5}>{sup}</tspan>
      <tspan fontSize={9} dx={-back} dy={9}>{sub}</tspan>
      <tspan dy={-4}>{' '}</tspan>
    </>
  );
}

function StatTitle({ x, t, p, r, lo, hi }: { x: number; t: string; p: string; r: string; lo: string; hi: string }) {
  return (
    <text x={x} y={39} fontSize={15} fill="#1a1a1a">
      <tspan fontStyle="italic">t</tspan>
      <tspan fontSize={10.6} dy={3}>Student</tspan>
      <tspan dy={-3}>(303) = −{t}, </tspan>
      <tspan fontStyle="italic">p</tspan> = {p}, <tspan fontStyle="italic">{'r\u0302'}</tspan>
      <tspan fontSize={10.6} dy={3}>Pearson</tspan>
      <tspan dy={-3}> = −{r}, CI</tspan>
      <tspan fontSize={10.6} dy={3}>95%</tspan>
      <tspan dy={-3}> [−{lo}, −{hi}], </tspan>
      <tspan fontStyle="italic">n</tspan>
      <tspan fontSize={10.6} dy={3}>pairs</tspan>
      <tspan dy={-3}> = 305</tspan>
    </text>
  );
}

function BayesCaption({ x, bf, rho, lo, hi }: { x: number; bf: string; rho: string; lo: string; hi: string }) {
  return (
    <text x={x} y={672} fontSize={12.5} fill="#1a1a1a">
      log<tspan fontSize={9} dy={2}>e</tspan>
      <tspan dy={-2}>(BF</tspan>
      <tspan fontSize={9} dy={2}>01</tspan>
      <tspan dy={-2}>) = −{bf}, {'\u03c1\u0302'}</tspan>
      <Stacked sup="posterior" sub="Pearson" back={35} />
      = −{rho}, CI
      <Stacked sup="HDI" sub="95%" back={15.5} />
      [−{lo}, −{hi}], <tspan fontStyle="italic">r</tspan>
      <Stacked sup="JZS" sub="beta" back={16} />
      = 1.41
    </text>
  );
}

interface ScatterProps {
  points: Pair[];
  counts: number[];
  fit: number[];
  hi: number[];
  lo: number[];
  x0: number;
  x5: number;
  yRange: [number, number, number, number];
  yMajor: number[];
  yMinor: number[];
  panel: [number, number];
  binTop: number;
  binHeight: number;
  rx: [number, number];
  rRight: number;
  rTicks: number[];
  yLabel: string;
  yLabelX: number;
}

function ScatterPanel(p: ScatterProps) {
  const x = d3.scaleLinear().domain([0, 5]).range([p.x0, p.x5]);
  const y = d3.scaleLinear().domain([p.yRange[0], p.yRange[2]]).range([p.yRange[1], p.yRange[3]]);
  const tx = d3.scaleLinear().domain([0, 50]).range([103, 54.5]);
  const rx = d3.scaleLinear().domain([0, 30]).range(p.rx);
  const [left, right] = p.panel;
  const top = 108;
  const bottom = 612;
  const xMajor = [0, 1, 2, 3, 4, 5];
  const xMinor = [0.5, 1.5, 2.5, 3.5, 4.5];
  const binStart = 0.07;
  const binWidth = 0.172;

  const band = d3.area<number>().x((d) => x(d)).y0((_, i) => y(p.lo[i])).y1((_, i) => y(p.hi[i])).curve(d3.curveCatmullRom);
  const fitLine = d3.line<number>().x((d) => x(d)).y((_, i) => y(p.fit[i]));

  return (
    <g fontFamily={FONT}>
      {/* top histogram */}
      {d3.range(0, 51, 5).map((v) => (
        <line key={v} x1={left} x2={right} y1={tx(v)} y2={tx(v)} stroke={GRID} strokeWidth={v % 10 === 0 ? 2 : 1.2} />
      ))}
      {[...xMajor, ...xMinor].map((v) => (
        <line key={v} x1={x(v)} x2={x(v)} y1={55} y2={105} stroke={GRID} strokeWidth={Number.isInteger(v) ? 2 : 1.2} />
      ))}
      {riskBinCounts.map((c, i) => (
        <rect key={i} x={x(binStart + i * binWidth)} width={x(binWidth) - x(0)} y={tx(c)} height={Math.max(0.1, tx(0) - tx(c))} fill="#2BA981" stroke="#111" strokeWidth={1.8} />
      ))}
      {d3.range(0, 51, 10).map((v) => (
        <g key={v}>
          <line x1={left - 4} x2={left} y1={tx(v)} y2={tx(v)} stroke="#333" strokeWidth={1.2} />
          <text x={left - 6} y={tx(v) + 5} textAnchor="end" fontSize={14} fill={GREY}>{v}</text>
        </g>
      ))}

      {/* main panel grid */}
      {p.yMinor.map((v) => <line key={v} x1={left} x2={right} y1={y(v)} y2={y(v)} stroke={GRID} strokeWidth={1.2} />)}
      {p.yMajor.map((v) => <line key={v} x1={left} x2={right} y1={y(v)} y2={y(v)} stroke={GRID} strokeWidth={2.2} />)}
      {xMinor.map((v) => <line key={v} x1={x(v)} x2={x(v)} y1={top} y2={bottom} stroke={GRID} strokeWidth={1.2} />)}
      {xMajor.map((v) => <line key={v} x1={x(v)} x2={x(v)} y1={top} y2={bottom} stroke={GRID} strokeWidth={2.2} />)}

      {p.points.map(([a, b], i) => <circle key={i} cx={x(a)} cy={y(b)} r={5.5} fill="#221c1a" opacity={0.6} />)}
      <path d={band(smoothX) ?? ''} fill="#8f8f8f" opacity={0.42} />
      <path d={fitLine(smoothX) ?? ''} fill="none" stroke="#2257B4" strokeWidth={4.6} />

      {p.yMajor.map((v) => (
        <g key={v}>
          <line x1={left - 4} x2={left} y1={y(v)} y2={y(v)} stroke="#333" strokeWidth={1.2} />
          <text x={left - 6} y={y(v) + 5} textAnchor="end" fontSize={14} fill={GREY}>{v}</text>
        </g>
      ))}
      {xMajor.map((v) => <text key={v} x={x(v)} y={630} textAnchor="middle" fontSize={14} fill={GREY}>{v}</text>)}
      <text x={(left + right) / 2 + 30} y={648} textAnchor="middle" fontSize={15.6} fontWeight="bold" fill="#111">riskScore</text>
      <text transform={`translate(${p.yLabelX},334) rotate(-90)`} textAnchor="middle" fontSize={15.2} fontWeight="bold" fill="#111">{p.yLabel}</text>

      {/* right histogram */}
      {p.yMinor.map((v) => <line key={v} x1={p.rx[0] - 5} x2={p.rRight} y1={y(v)} y2={y(v)} stroke={GRID} strokeWidth={1.2} />)}
      {p.yMajor.map((v) => <line key={v} x1={p.rx[0] - 5} x2={p.rRight} y1={y(v)} y2={y(v)} stroke={GRID} strokeWidth={2} />)}
      {[0, 5, 10, 15, 20, 25, 30].map((v) => (
        <line key={v} x1={rx(v)} x2={rx(v)} y1={top} y2={bottom} stroke={GRID} strokeWidth={v % 10 === 0 ? 2 : 1.2} />
      ))}
      {p.counts.map((c, i) => (
        <rect key={i} x={rx(0)} width={Math.max(0.1, rx(c) - rx(0))} y={y(p.binTop - i * p.binHeight)} height={y(0) - y(p.binHeight)} fill="#DF6427" stroke="#111" strokeWidth={1.8} />
      ))}
      {p.rTicks.map((v) => <text key={v} x={rx(v)} y={630} textAnchor="middle" fontSize={14} fill={GREY}>{v}</text>)}
    </g>
  );
}

interface SideProps {
  cx: number;
  color: string;
  boxColor: string;
  shape: Pair[];
  box: number[];
  y: d3.ScaleLinear<number, number>;
  spacing: number;
}

function Violin({ cx, color, boxColor, shape, box, y, spacing }: SideProps) {
  const area = d3.area<Pair>()
    .x0((d) => cx - d[1] * spacing)
    .x1((d) => cx + d[1] * spacing)
    .y((d) => y(d[0]))
    .curve(d3.curveCatmullRom);
  const half = 0.175 * spacing;
  const notch = half * 0.36;
  const [wLo, q1, nLo, med, nHi, q3, wHi] = box;
  const boxPath = d3.path();
  boxPath.moveTo(cx - half, y(q3));
  boxPath.lineTo(cx + half, y(q3));
  boxPath.lineTo(cx + half, y(nHi));
  boxPath.lineTo(cx + notch, y(med));
  boxPath.lineTo(cx + half, y(nLo));
  boxPath.lineTo(cx + half, y(q1));
  boxPath.lineTo(cx - half, y(q1));
  boxPath.lineTo(cx - half, y(nLo));
  boxPath.lineTo(cx - notch, y(med));
  boxPath.lineTo(cx - half, y(nHi));
  boxPath.closePath();
  return (
    <g>
      <path d={area(shape) ?? ''} fill={color} stroke="#3a2a2a" strokeWidth={1.8} />
      <line x1={cx} x2={cx} y1={y(wHi)} y2={y(q3)} stroke="#333" strokeWidth={1.7} />
      <line x1={cx} x2={cx} y1={y(q1)} y2={y(wLo)} stroke="#333" strokeWidth={1.7} />
      <path d={boxPath.toString()} fill={boxColor} stroke="#333" strokeWidth={1.7} />
      <line x1={cx - notch} x2={cx + notch} y1={y(med)} y2={y(med)} stroke="#333" strokeWidth={2.4} />
    </g>
  );
}

interface ViolinProps {
  axis: { left: number; right: number; top: number; bottom: number };
  hx: number;
  lx: number;
  yCal: [number, number, number, number];
  ticks: number[];
  tickText: string[];
  highShape: Pair[];
  lowShape: Pair[];
  highBox: number[];
  lowBox: number[];
  highPts: Pair[];
  lowPts: Pair[];
  bracket: number;
  drop: number;
  stars: string;
  yLabel: string;
  yLabelX: number;
  yLabelY: number;
  tickY: number;
  titleY: number;
  legend: { titleX: number; titleY: number; keyX: number; key1: number; key2: number; textX: number };
}

function ViolinPanel(p: ViolinProps) {
  const y = d3.scaleLinear().domain([p.yCal[0], p.yCal[2]]).range([p.yCal[1], p.yCal[3]]);
  const spacing = p.lx - p.hx;
  const mid = (p.hx + p.lx) / 2;
  const cat = [
    { name: 'High_risk', cx: p.hx, pts: p.highPts },
    { name: 'Low_risk', cx: p.lx, pts: p.lowPts },
  ];
  const { legend: lg, axis } = p;
  return (
    <g fontFamily={FONT}>
      <Violin cx={p.hx} color={HIGH} boxColor={HIGH_BOX} shape={p.highShape} box={p.highBox} y={y} spacing={spacing} />
      <Violin cx={p.lx} color={LOW} boxColor={LOW_BOX} shape={p.lowShape} box={p.lowBox} y={y} spacing={spacing} />
      {cat.map((c) =>
        c.pts.map(([off, v], i) => (
          <circle key={c.name + i} cx={c.cx + off * spacing} cy={y(v)} r={5} fill="#1d1512" opacity={0.68} />
        )),
      )}
      <path d={`M${p.hx},${p.drop}V${p.bracket}H${p.lx}V${p.drop}`} fill="none" stroke="#111" strokeWidth={2} />
      <text x={mid} y={p.bracket - 7} textAnchor="middle" fontSize={28} fontWeight="bold" fill="#000">{p.stars}</text>

      <line x1={axis.left} x2={axis.left} y1={axis.top} y2={axis.bottom} stroke="#111" strokeWidth={2.4} />
      <line x1={axis.left} x2={axis.right} y1={axis.bottom} y2={axis.bottom} stroke="#111" strokeWidth={2.4} />
      {p.ticks.map((v, i) => (
        <g key={v}>
          <line x1={axis.left - 5} x2={axis.left} y1={y(v)} y2={y(v)} stroke="#333" strokeWidth={1.5} />
          <text x={axis.left - 8} y={y(v) + 6} textAnchor="end" fontSize={16.5} fontWeight="bold" fill={GREY}>{p.tickText[i]}</text>
        </g>
      ))}
      {cat.map((c) => (
        <g key={c.name}>
          <line x1={c.cx} x2={c.cx} y1={axis.bottom} y2={axis.bottom + 5} stroke="#333" strokeWidth={1.5} />
          <text x={c.cx} y={p.tickY + 6} textAnchor="middle" fontSize={16.5} fontWeight="bold" fill={GREY}>{c.name}</text>
        </g>
      ))}
      <text x={mid} y={p.titleY + 7} textAnchor="middle" fontSize={20} fontWeight="bold" fill="#111">risk</text>
      <text transform={`translate(${p.yLabelX + 7},${p.yLabelY}) rotate(-90)`} textAnchor="middle" fontSize={20} fontWeight="bold" fill="#111">{p.yLabel}</text>

      <text x={lg.titleX} y={lg.titleY} fontSize={20} fill="#222">risk</text>
      <rect x={lg.keyX} y={lg.key1} width={30} height={30.5} fill={HIGH} stroke="#333" strokeWidth={1.6} />
      <rect x={lg.keyX} y={lg.key2} width={30} height={30.5} fill={LOW} stroke="#333" strokeWidth={1.6} />
      <text x={lg.textX} y={lg.key1 + 21} fontSize={16.6} fill="#222">High_risk</text>
      <text x={lg.textX} y={lg.key2 + 21} fontSize={16.6} fill="#222">Low_risk</text>
    </g>
  );
}

function BoxPanel() {
  const left = 88;
  const right = 2000.6;
  const top = 736.4;
  const bottom = 1275.7;
  const x = d3.scalePoint<string>().domain(cellTypes).range([139.7, 1949]);
  const y = d3.scaleLinear().domain([0, 0.4]).range([1251.3, 817]);
  const boxW = 26;
  const shift = 10.8;
  const series = [
    { stats: boxHigh, outs: outlierHigh, fill: RED, off: -shift },
    { stats: boxLow, outs: outlierLow, fill: TEAL, off: shift },
  ];
  return (
    <g fontFamily={FONT}>
      <rect x={left} y={top} width={right - left} height={bottom - top} fill="none" stroke="#333" strokeWidth={1.3} />
      <line x1={left} x2={left} y1={top} y2={bottom} stroke="#111" strokeWidth={2.2} />
      <line x1={left} x2={right} y1={bottom} y2={bottom} stroke="#111" strokeWidth={2.4} />
      {series.map((s, k) =>
        cellTypes.map((c, i) => {
          const cx = (x(c) as number) + s.off;
          const [wl, q1, med, q3, wh] = s.stats[i];
          return (
            <g key={c + k}>
              <line x1={cx} x2={cx} y1={y(wh)} y2={y(wl)} stroke="#333" strokeWidth={1.6} />
              <rect x={cx - boxW / 2} y={y(q3)} width={boxW} height={y(q1) - y(q3)} fill={s.fill} stroke="#333" strokeWidth={1.5} />
              <line x1={cx - boxW / 2} x2={cx + boxW / 2} y1={y(med)} y2={y(med)} stroke="#333" strokeWidth={3.4} />
              {s.outs[i].map((v, j) => <circle key={j} cx={cx} cy={y(v)} r={4.3} fill="#333" />)}
            </g>
          );
        }),
      )}
      {cellTypes.map((c, i) => (
        <g key={c}>
          <text x={x(c)} y={cellSignif[i] === 'ns' ? 761 : 765} textAnchor="middle" fontSize={20} fill="#111">{cellSignif[i]}</text>
          <line x1={x(c)} x2={x(c)} y1={bottom} y2={bottom + 5} stroke="#333" strokeWidth={1.5} />
          <text transform={`translate(${(x(c) as number) + 9},1291) rotate(-45)`} textAnchor="end" fontSize={18.7} fontWeight="bold" fill={GREY}>{c}</text>
        </g>
      ))}
      {[0, 0.1, 0.2, 0.3, 0.4].map((v) => (
        <g key={v}>
          <line x1={left - 5} x2={left} y1={y(v)} y2={y(v)} stroke="#333" strokeWidth={1.5} />
          <text x={left - 10} y={y(v) + 8} textAnchor="end" fontSize={22} fontWeight="bold" fill={GREY}>{v.toFixed(1)}</text>
        </g>
      ))}
      <text transform="translate(37,1006) rotate(-90)" textAnchor="middle" fontSize={25.8} fontWeight="bold" fill="#111">Estimated Proportion</text>

      <rect x={1632.6} y={817.5} width={353.9} height={53.2} fill="#fff" stroke="#111" strokeWidth={2.5} />
      {[{ kx: 1656, fill: RED, name: 'High_risk', tx: 1696 }, { kx: 1826, fill: TEAL, name: 'Low_risk', tx: 1865 }].map((k) => (
        <g key={k.name}>
          <line x1={k.kx + 12.7} x2={k.kx + 12.7} y1={831} y2={858} stroke="#333" strokeWidth={1.5} />
          <rect x={k.kx} y={836} width={25.4} height={17} fill={k.fill} stroke="#333" strokeWidth={1.5} />
          <line x1={k.kx} x2={k.kx + 25.4} y1={844.5} y2={844.5} stroke="#333" strokeWidth={3} />
          <text x={k.tx} y={852} fontSize={22} fontWeight="bold" fill="#111">{k.name}</text>
        </g>
      ))}
    </g>
  );
}

export default function App() {
  return (
    <svg width={2009} height={2250} viewBox="0 0 2009 2250" style={{ position: 'absolute', left: 0, top: 0, background: '#fff' }} fontFamily={FONT}>
      <Letter x={6} y={42} t="A" />
      <Letter x={664} y={42} t="B" />
      <Letter x={1357} y={42} t="C" />
      <Letter x={6} y={759} t="D" />
      <Letter x={6} y={1584} t="E" />
      <Letter x={665} y={1584} t="F" />
      <Letter x={1361} y={1584} t="G" />

      <StatTitle x={52} t="3.64" p="3.24e−04" r="0.20" lo="0.31" hi="0.09" />
      <StatTitle x={722} t="4.46" p="1.14e−05" r="0.25" lo="0.35" hi="0.14" />
      <BayesCaption x={288} bf="3.99" rho="0.20" lo="0.31" hi="0.09" />
      <BayesCaption x={958} bf="7.13" rho="0.24" lo="0.35" hi="0.14" />

      <ScatterPanel
        points={ctla4Points} counts={ctla4BinCounts} fit={ctla4Fit} hi={ctla4Hi} lo={ctla4Lo}
        x0={68.75} x5={560.3} yRange={[11, 126.3, 3, 603]} yMajor={[3, 5, 7, 9, 11]} yMinor={[4, 6, 8, 10]}
        panel={[51, 608.5]} binTop={10.93} binHeight={0.258} rx={[614, 666]} rRight={668} rTicks={[0, 10, 20, 30]}
        yLabel="CTLA4 expression (log2+1 counts)" yLabelX={23}
      />
      <ScatterPanel
        points={havcr2Points} counts={havcr2BinCounts} fit={havcr2Fit} hi={havcr2Hi} lo={havcr2Lo}
        x0={738.6} x5={1230.5} yRange={[12, 186.6, 6, 575.9]} yMajor={[6, 8, 10, 12]} yMinor={[7, 9, 11, 13]}
        panel={[722.5, 1278]} binTop={12.86} binHeight={0.237} rx={[1284, 1326.5]} rRight={1336} rTicks={[0, 10, 20, 30]}
        yLabel="HAVCR2 expression (log2+1 counts)" yLabelX={693}
      />

      <ViolinPanel
        axis={{ left: 1421.5, right: 1850.7, top: 27, bottom: 626.8 }} hx={1538.4} lx={1733.8}
        yCal={[5, 63.8, -2.5, 504.5]} ticks={[5, 2.5, 0, -2.5]} tickText={['5.0', '2.5', '0.0', '−2.5']}
        highShape={tideHighShape} lowShape={tideLowShape} highBox={tideHighBox} lowBox={tideLowBox}
        highPts={tideHighPoints} lowPts={tideLowPoints} bracket={54} drop={70.5} stars="***"
        yLabel="TIDE" yLabelX={1362} yLabelY={326} tickY={643} titleY={665}
        legend={{ titleX: 1882, titleY: 298, keyX: 1883, key1: 310.5, key2: 343, textX: 1924.5 }}
      />

      <BoxPanel />

      <ViolinPanel
        axis={{ left: 95.8, right: 511.7, top: 1594, bottom: 2193.9 }} hx={209} lx={398}
        yCal={[5000, 1598.9, -2500, 2151.7]} ticks={[5000, 2500, 0, -2500]} tickText={['5000', '2500', '0', '−2500']}
        highShape={estimateHighShape} lowShape={estimateLowShape} highBox={estimateHighBox} lowBox={estimateLowBox}
        highPts={estimateHighPoints} lowPts={estimateLowPoints} bracket={1621} drop={1638} stars="***"
        yLabel="ESTIMATEScore" yLabelX={22.5} yLabelY={1894} tickY={2209.5} titleY={2231.6}
        legend={{ titleX: 542, titleY: 1865, keyX: 543, key1: 1877.6, key2: 1909, textX: 584.6 }}
      />
      <ViolinPanel
        axis={{ left: 765.4, right: 1180.8, top: 1589.7, bottom: 2190 }} hx={878.6} lx={1067.6}
        yCal={[3000, 1603, -1000, 2129.6]} ticks={[3000, 2000, 1000, 0, -1000]} tickText={['3000', '2000', '1000', '0', '−1000']}
        highShape={immuneHighShape} lowShape={immuneLowShape} highBox={immuneHighBox} lowBox={immuneLowBox}
        highPts={immuneHighPoints} lowPts={immuneLowPoints} bracket={1616.3} drop={1633.8} stars="***"
        yLabel="ImmuneScore" yLabelX={692.5} yLabelY={1890.4} tickY={2206} titleY={2228}
        legend={{ titleX: 1212, titleY: 1860.6, keyX: 1213, key1: 1873.4, key2: 1905.6, textX: 1255 }}
      />
      <text x={1044.6} y={1557} textAnchor="middle" fontSize={25.4} fontWeight="bold" fill="#111">Cell Type</text>
      <ViolinPanel
        axis={{ left: 1435.2, right: 1850.6, top: 1589.7, bottom: 2190 }} hx={1548.3} lx={1737.5}
        yCal={[2000, 1645.2, -1000, 2058.5]} ticks={[2000, 1000, 0, -1000]} tickText={['2000', '1000', '0', '−1000']}
        highShape={stromalHighShape} lowShape={stromalLowShape} highBox={stromalHighBox} lowBox={stromalLowBox}
        highPts={stromalHighPoints} lowPts={stromalLowPoints} bracket={1616.3} drop={1633.8} stars="**"
        yLabel="StromalScore" yLabelX={1362.5} yLabelY={1890.4} tickY={2206} titleY={2228}
        legend={{ titleX: 1882, titleY: 1860.6, keyX: 1882.6, key1: 1873.4, key2: 1905.6, textX: 1924.6 }}
      />
    </svg>
  );
}
